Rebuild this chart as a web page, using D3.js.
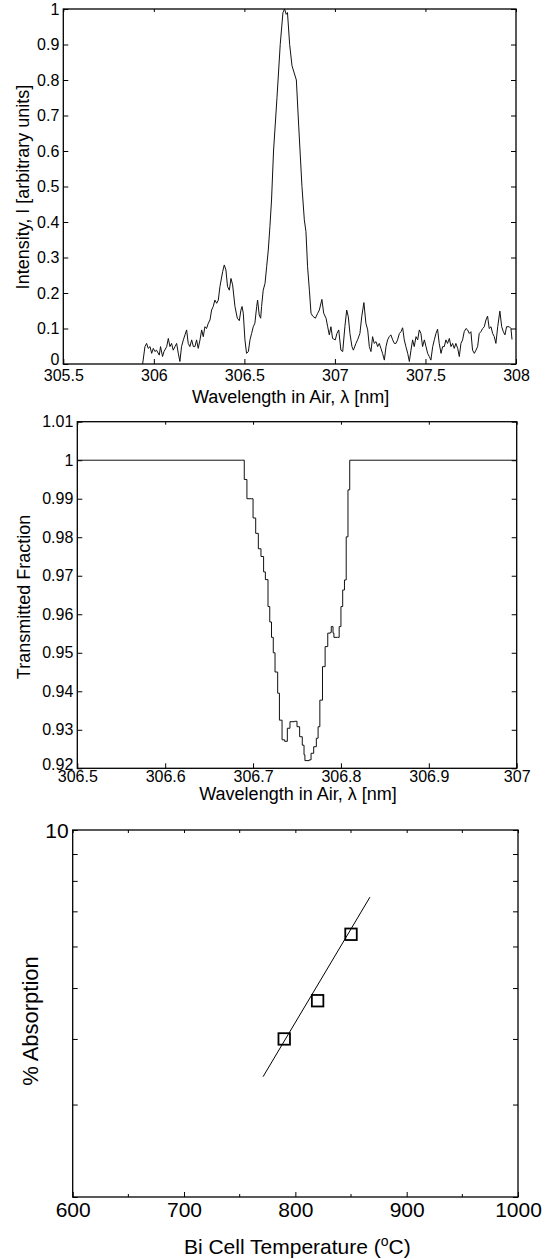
<!DOCTYPE html>
<html>
<head>
<meta charset="utf-8">
<script src="https://cdn.jsdelivr.net/npm/d3@7"></script>
<style>
  body { margin: 0; background: #fff; }
  text { font-family: "Liberation Sans", Arial, sans-serif; fill: #000; }
</style>
</head>
<body>
<div id="chart"></div>
<script>
// emission spectrum (top panel)
const specWl = [
  305.938, 305.951, 305.960, 305.969, 305.979, 305.988, 305.997, 306.006, 306.015, 306.030,
  306.037, 306.048, 306.056, 306.071, 306.080, 306.089, 306.098, 306.107, 306.117, 306.126,
  306.135, 306.144, 306.153, 306.163, 306.172, 306.181, 306.190, 306.199, 306.209, 306.218,
  306.227, 306.236, 306.245, 306.255, 306.264, 306.273, 306.282, 306.291, 306.301, 306.310,
  306.319, 306.328, 306.337, 306.347, 306.356, 306.365, 306.380, 306.389, 306.398, 306.407,
  306.417, 306.426, 306.435, 306.448, 306.461, 306.472, 306.481, 306.487, 306.494, 306.503,
  306.512, 306.522, 306.531, 306.540, 306.549, 306.558, 306.568, 306.573, 306.582, 306.590,
  306.595, 306.604, 306.614, 306.623, 306.632, 306.641, 306.650, 306.661, 306.680, 306.698,
  306.713, 306.722, 306.731, 306.738, 306.750, 306.763, 306.787, 306.800, 306.818, 306.831,
  306.840, 306.849, 306.859, 306.868, 306.877, 306.892, 306.905, 306.914, 306.928, 306.938,
  306.951, 306.960, 306.969, 306.978, 306.987, 307.002, 307.011, 307.021, 307.033, 307.043,
  307.055, 307.065, 307.074, 307.083, 307.094, 307.102, 307.116, 307.125, 307.138, 307.148,
  307.160, 307.171, 307.181, 307.190, 307.199, 307.208, 307.217, 307.227, 307.236, 307.245,
  307.254, 307.263, 307.273, 307.282, 307.291, 307.300, 307.309, 307.319, 307.328, 307.337,
  307.346, 307.356, 307.365, 307.374, 307.383, 307.392, 307.402, 307.411, 307.420, 307.429,
  307.438, 307.448, 307.457, 307.466, 307.475, 307.484, 307.494, 307.503, 307.512, 307.521,
  307.530, 307.540, 307.549, 307.558, 307.567, 307.576, 307.586, 307.595, 307.604, 307.613,
  307.622, 307.632, 307.641, 307.650, 307.659, 307.668, 307.678, 307.687, 307.696, 307.705,
  307.714, 307.724, 307.733, 307.742, 307.751, 307.760, 307.770, 307.779, 307.788, 307.797,
  307.806, 307.816, 307.825, 307.834, 307.843, 307.852, 307.862, 307.871, 307.880, 307.889,
  307.899, 307.911, 307.921, 307.930, 307.939, 307.948, 307.963, 307.972, 307.978
];
const specI = [
  0.000, 0.049, 0.058, 0.044, 0.049, 0.030, 0.044, 0.035, 0.039, 0.025,
  0.049, 0.021, 0.035, 0.049, 0.072, 0.049, 0.058, 0.039, 0.049, 0.058,
  0.030, 0.007, 0.049, 0.068, 0.082, 0.096, 0.058, 0.049, 0.068, 0.049,
  0.049, 0.068, 0.044, 0.068, 0.096, 0.077, 0.105, 0.100, 0.115, 0.124,
  0.152, 0.162, 0.180, 0.171, 0.180, 0.218, 0.260, 0.279, 0.265, 0.218,
  0.208, 0.241, 0.223, 0.162, 0.129, 0.122, 0.152, 0.162, 0.143, 0.068,
  0.030, 0.035, 0.068, 0.086, 0.105, 0.115, 0.162, 0.180, 0.138, 0.129,
  0.162, 0.208, 0.227, 0.274, 0.321, 0.387, 0.462, 0.600, 0.750, 0.900,
  0.990, 1.000, 0.985, 0.990, 0.900, 0.840, 0.800, 0.670, 0.500, 0.406,
  0.373, 0.274, 0.208, 0.143, 0.135, 0.129, 0.143, 0.152, 0.182, 0.143,
  0.129, 0.105, 0.082, 0.105, 0.072, 0.068, 0.086, 0.096, 0.039, 0.035,
  0.105, 0.152, 0.133, 0.086, 0.049, 0.039, 0.058, 0.068, 0.086, 0.133,
  0.173, 0.115, 0.096, 0.049, 0.035, 0.077, 0.058, 0.063, 0.049, 0.058,
  0.044, 0.030, 0.011, 0.049, 0.068, 0.077, 0.082, 0.068, 0.058, 0.058,
  0.068, 0.086, 0.091, 0.102, 0.068, 0.049, 0.030, 0.007, 0.039, 0.068,
  0.049, 0.077, 0.068, 0.096, 0.086, 0.049, 0.068, 0.049, 0.030, 0.021,
  0.011, 0.049, 0.068, 0.086, 0.098, 0.058, 0.030, 0.049, 0.049, 0.068,
  0.058, 0.072, 0.049, 0.058, 0.044, 0.058, 0.044, 0.021, 0.058, 0.068,
  0.091, 0.100, 0.096, 0.086, 0.091, 0.039, 0.030, 0.039, 0.049, 0.086,
  0.091, 0.100, 0.105, 0.124, 0.135, 0.100, 0.105, 0.086, 0.077, 0.058,
  0.105, 0.149, 0.105, 0.091, 0.082, 0.105, 0.105, 0.100, 0.069
];
const specXTicks = [305.5, 306, 306.5, 307, 307.5, 308];
const specYTicks = [0, 0.1, 0.2, 0.3, 0.4, 0.5, 0.6, 0.7, 0.8, 0.9, 1];

// cell transmission (middle panel)
const transWl = [
  306.500, 306.687, 306.690, 306.693, 306.698, 306.700, 306.703, 306.706, 306.709, 306.712,
  306.714, 306.717, 306.719, 306.721, 306.723, 306.725, 306.728, 306.730, 306.733, 306.736,
  306.739, 306.742, 306.747, 306.750, 306.753, 306.756, 306.758, 306.759, 306.764, 306.766,
  306.769, 306.772, 306.774, 306.776, 306.779, 306.782, 306.785, 306.788, 306.789, 306.791,
  306.792, 306.796, 306.798, 306.800, 306.802, 306.804, 306.806, 306.808, 306.810, 307.000
];
const transT = [
  1.000, 1.000, 0.995, 0.990, 0.990, 0.985, 0.981, 0.977, 0.975, 0.971,
  0.969, 0.962, 0.958, 0.954, 0.950, 0.945, 0.9395, 0.9325, 0.9274, 0.927,
  0.9304, 0.9321, 0.9322, 0.9308, 0.9282, 0.926, 0.9235, 0.922, 0.9222, 0.9239,
  0.9256, 0.9278, 0.9308, 0.9377, 0.9464, 0.9516, 0.9551, 0.9553, 0.9568, 0.9551,
  0.954, 0.954, 0.9568, 0.962, 0.9663, 0.9689, 0.9801, 0.9923, 1.000, 1.000
];
const transXTicks = [306.5, 306.6, 306.7, 306.8, 306.9, 307];
const transYTicks = [0.92, 0.93, 0.94, 0.95, 0.96, 0.97, 0.98, 0.99, 1, 1.01];

// absorption vs temperature (bottom panel)
const cellTemp = [790, 820, 850];
const absorption = [4.0, 4.73, 6.33];
const fitTemp = [771, 867];
const fitAbs = [3.39, 7.45];
const tempTicks = [600, 700, 800, 900, 1000];
const tempMinor = [650, 750, 850, 950];
const absTicks = [2, 3, 4, 5, 6, 7, 8, 9, 10];

const W = 552, H = 1259;
const tickFont = 16, labelFont = 18;
const tickLen = 5;

const svg = d3.select("#chart").append("svg")
  .attr("width", W).attr("height", H);

const fmt = (d) => String(+d.toFixed(3));

// box with inward ticks on all four sides
function frame(g, x, y, xt, yt, opts) {
  const o = opts || {};
  const [x0, x1] = x.range();
  const [y0, y1] = y.range();
  const fs = o.fontSize || tickFont;

  const bottom = g.append("g").attr("transform", `translate(0,${y0})`)
    .call(d3.axisBottom(x).tickValues(xt).tickSize(-tickLen).tickSizeOuter(0)
      .tickPadding(o.xPad != null ? o.xPad : 5).tickFormat(o.xFormat || fmt));
  const top = g.append("g").attr("transform", `translate(0,${y1})`)
    .call(d3.axisTop(x).tickValues(xt).tickSize(-3).tickSizeOuter(0).tickFormat(""));
  const left = g.append("g").attr("transform", `translate(${x0},0)`)
    .call(d3.axisLeft(y).tickValues(yt).tickSize(-tickLen).tickSizeOuter(0)
      .tickPadding(4).tickFormat(o.yFormat || fmt));
  const right = g.append("g").attr("transform", `translate(${x1},0)`)
    .call(d3.axisRight(y).tickValues(yt).tickSize(-tickLen).tickSizeOuter(0).tickFormat(""));

  [bottom, top, left, right].forEach((a) => {
    a.select(".domain").remove();
    a.selectAll("line").attr("stroke", "#000").attr("stroke-width", 1);
    a.selectAll("text")
      .attr("font-family", '"Liberation Sans", Arial, sans-serif')
      .attr("font-size", fs)
      .attr("fill", "#000");
  });

  g.append("rect")
    .attr("x", x0).attr("y", y1)
    .attr("width", x1 - x0).attr("height", y0 - y1)
    .attr("fill", "none").attr("stroke", "#000").attr("stroke-width", 1.3);
  return { bottom, left };
}

// ---------- panel 1: intensity spectrum
{
  const g = svg.append("g");
  const x = d3.scaleLinear().domain([305.5, 308]).range([63.3, 516]);
  const y = d3.scaleLinear().domain([0, 1]).range([364, 9]);

  const line = d3.line()
    .x((d, i) => x(specWl[i]))
    .y((d, i) => y(specI[i]));
  g.append("path")
    .attr("d", line(specI))
    .attr("fill", "none")
    .attr("stroke", "#111")
    .attr("stroke-width", 1);

  const ax = frame(g, x, y, specXTicks, specYTicks, { xPad: 6 });
  // corner labels sit tight together in the original
  ax.left.selectAll("text").filter((d) => d === 0).attr("dy", "0.05em");

  g.append("text")
    .attr("x", (x.range()[0] + x.range()[1]) / 2 + 1)
    .attr("y", 403)
    .attr("text-anchor", "middle")
    .attr("font-size", labelFont)
    .text("Wavelength in Air, \u03bb [nm]");

  g.append("text")
    .attr("transform", "translate(29,187) rotate(-90)")
    .attr("text-anchor", "middle")
    .attr("font-size", labelFont)
    .text("Intensity, I [arbitrary units]");
}

// ---------- panel 2: transmitted fraction
{
  const g = svg.append("g");
  const x = d3.scaleLinear().domain([306.5, 307]).range([77.3, 516.7]);
  const y = d3.scaleLinear().domain([0.92, 1.01]).range([768.3, 421.7]);

  const line = d3.line()
    .curve(d3.curveStepAfter)
    .x((d, i) => x(transWl[i]))
    .y((d, i) => y(transT[i]));
  g.append("path")
    .attr("d", line(transT))
    .attr("fill", "none")
    .attr("stroke", "#111")
    .attr("stroke-width", 1);

  const ax = frame(g, x, y, transXTicks, transYTicks, { xPad: 2 });
  ax.left.selectAll("text").filter((d) => d === 0.92).attr("dy", "0.05em");

  g.append("text")
    .attr("x", (x.range()[0] + x.range()[1]) / 2 + 1)
    .attr("y", 800)
    .attr("text-anchor", "middle")
    .attr("font-size", labelFont)
    .text("Wavelength in Air, \u03bb [nm]");

  g.append("text")
    .attr("transform", "translate(30,597) rotate(-90)")
    .attr("text-anchor", "middle")
    .attr("font-size", labelFont)
    .text("Transmitted Fraction");
}

// ---------- panel 3: % absorption vs cell temperature
{
  const g = svg.append("g");
  const x = d3.scaleLinear().domain([600, 1000]).range([72.7, 518]);
  const y = d3.scaleLog().domain([2, 10]).range([1197, 830]);

  g.append("path")
    .attr("d", d3.line()
      .x((d, i) => x(fitTemp[i]))
      .y((d, i) => y(fitAbs[i]))(fitAbs))
    .attr("fill", "none")
    .attr("stroke", "#000")
    .attr("stroke-width", 1);

  const s = 11.5;
  g.selectAll(".pt")
    .data(absorption)
    .join("rect")
    .attr("class", "pt")
    .attr("x", (d, i) => x(cellTemp[i]) - s / 2)
    .attr("y", (d) => y(d) - s / 2)
    .attr("width", s).attr("height", s)
    .attr("fill", "none")
    .attr("stroke", "#000")
    .attr("stroke-width", 1.8);

  const ax = frame(g, x, y, tempTicks, absTicks, {
    fontSize: 21,
    yFormat: (d) => (d === 10 ? "10" : "")
  });
  ax.left.selectAll("text").attr("dy", "0.36em");

  // minor x ticks
  g.selectAll(".minor")
    .data(tempMinor)
    .join("line")
    .attr("x1", (d) => x(d)).attr("x2", (d) => x(d))
    .attr("y1", y.range()[0]).attr("y2", y.range()[0] - 3)
    .attr("stroke", "#000");
  g.selectAll(".minorTop")
    .data(tempMinor)
    .join("line")
    .attr("x1", (d) => x(d)).attr("x2", (d) => x(d))
    .attr("y1", y.range()[1]).attr("y2", y.range()[1] + 3)
    .attr("stroke", "#000");

  const xl = g.append("text")
    .attr("x", (x.range()[0] + x.range()[1]) / 2 + 2)
    .attr("y", 1254)
    .attr("text-anchor", "middle")
    .attr("font-size", 21);
  xl.append("tspan").text("Bi Cell Temperature (");
  xl.append("tspan").attr("font-size", 14).attr("dy", -8).text("o");
  xl.append("tspan").attr("dy", 8).text("C)");

  g.append("text")
    .attr("transform", "translate(38,1021) rotate(-90)")
    .attr("text-anchor", "middle")
    .attr("font-size", 22)
    .text("% Absorption");
}
</script>
</body>
</html>
